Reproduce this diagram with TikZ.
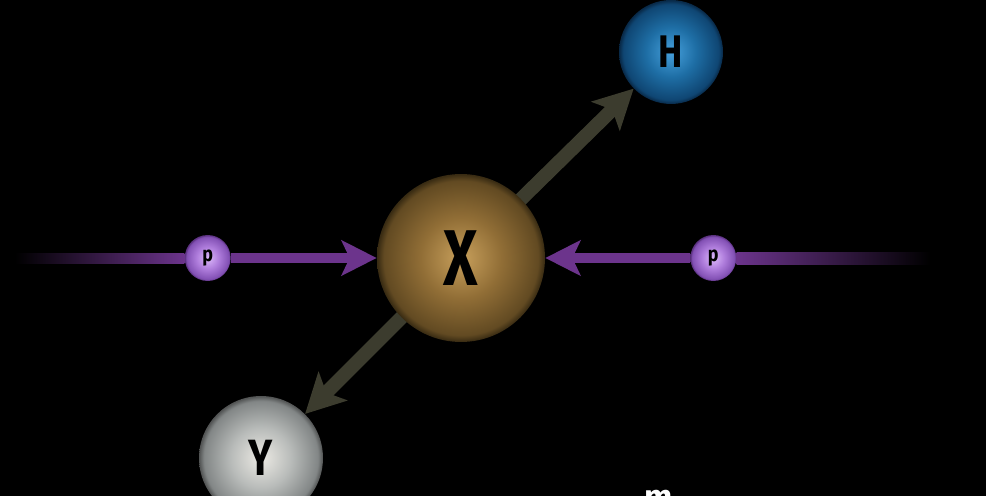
\documentclass[tikz,border=0pt]{standalone}
\usepackage{fontspec}
\setmainfont{Fira Sans}
\usetikzlibrary{arrows.meta, positioning}
\usepackage{xcolor}

\definecolor{xcore}{RGB}{200,160,92}
\definecolor{xmid}{RGB}{145,110,54}
\definecolor{xedge}{RGB}{98,74,34}
\definecolor{xrim}{RGB}{55,42,18}
\definecolor{hcore}{RGB}{70,160,220}
\definecolor{hmid}{RGB}{30,110,165}
\definecolor{hedge}{RGB}{15,70,115}
\definecolor{hrim}{RGB}{8,40,70}
\definecolor{ycore}{RGB}{236,234,228}
\definecolor{ymid}{RGB}{185,188,186}
\definecolor{yedge}{RGB}{130,134,134}
\definecolor{yrim}{RGB}{80,82,82}
\definecolor{pcore}{RGB}{220,185,250}
\definecolor{pmid}{RGB}{175,125,220}
\definecolor{pedge}{RGB}{130,80,180}
\definecolor{prim}{RGB}{85,45,120}
\definecolor{pline}{RGB}{108,52,140}
\definecolor{decay}{RGB}{60,60,46}

\pgfdeclareradialshading{xball}{\pgfpoint{0bp}{0bp}}{color(0bp)=(xcore); color(12bp)=(xmid); color(23bp)=(xedge); color(25bp)=(xrim); color(50bp)=(xrim)}
\pgfdeclareradialshading{hball}{\pgfpoint{0bp}{0bp}}{color(0bp)=(hcore); color(12bp)=(hmid); color(23bp)=(hedge); color(25bp)=(hrim); color(50bp)=(hrim)}
\pgfdeclareradialshading{yball}{\pgfpoint{0bp}{0bp}}{color(0bp)=(ycore); color(12bp)=(ymid); color(23bp)=(yedge); color(25bp)=(yrim); color(50bp)=(yrim)}
\pgfdeclareradialshading{pball}{\pgfpoint{0bp}{0bp}}{color(0bp)=(pcore); color(12bp)=(pmid); color(23bp)=(pedge); color(25bp)=(prim); color(50bp)=(prim)}

\begin{document}
\begin{tikzpicture}[
  x=0.02cm, y=-0.02cm,
  particle/.style={circle, inner sep=0pt, text=black, font=\bfseries},
  big/.style={particle, minimum size=3.36cm, shading=xball},
  higgs/.style={particle, minimum size=2.08cm, shading=hball},
  boson/.style={particle, minimum size=2.48cm, shading=yball},
  proton/.style={particle, minimum size=0.92cm, shading=pball},
  beam/.style={pline, line width=0.22cm, -{Stealth[length=0.7cm, width=0.7cm, inset=0.16cm]}},
  decayline/.style={decay, line width=0.28cm, -{Stealth[length=0.78cm, width=0.8cm, inset=0.18cm]}}
]
% background
\clip (0,0) rectangle (986,496);
\fill[black] (0,0) rectangle (986,496);

% Nodes
\coordinate (xc) at (461,258);
\coordinate (fl) at (15,259);
\coordinate (fr) at (930,259);
\node[higgs] (H) at (671,52) {\fontsize{26}{26}\selectfont\scalebox{0.8}[1]{H}};
\node[boson] (Y) at (261,458) {\fontsize{29}{29}\selectfont\scalebox{0.8}[1]{Y}};
\node[proton, left=2.92cm of xc, xshift=-1.68cm] (pl) {\fontsize{12}{12}\selectfont\scalebox{0.85}[1]{p}};
\node[proton, right=2.9cm of xc, xshift=1.68cm] (pr) {\fontsize{12}{12}\selectfont\scalebox{0.85}[1]{p}};

% Fading beams
\shade[left color=black, right color=pline] ([yshift=0.11cm]fl) rectangle ([yshift=-0.11cm]pl.west);
\shade[left color=pline, right color=black] ([yshift=0.11cm]pr.east) rectangle ([yshift=-0.11cm]fr);

% Decay arrows
\draw[decayline] (xc) -- (H);
\draw[decayline] (xc) -- (Y);

% Central particle
\node[big] (X) at (xc) {\fontsize{45}{45}\selectfont\scalebox{0.75}[1]{X}};

% Incoming protons
\draw[beam] (pl) -- (X);
\draw[beam] (pr) -- (X);

% caption, cut off
\node[anchor=base, text=white, font=\bfseries\fontsize{19}{19}\selectfont] (cap) at (659,508) {m};
\end{tikzpicture}
\end{document}
